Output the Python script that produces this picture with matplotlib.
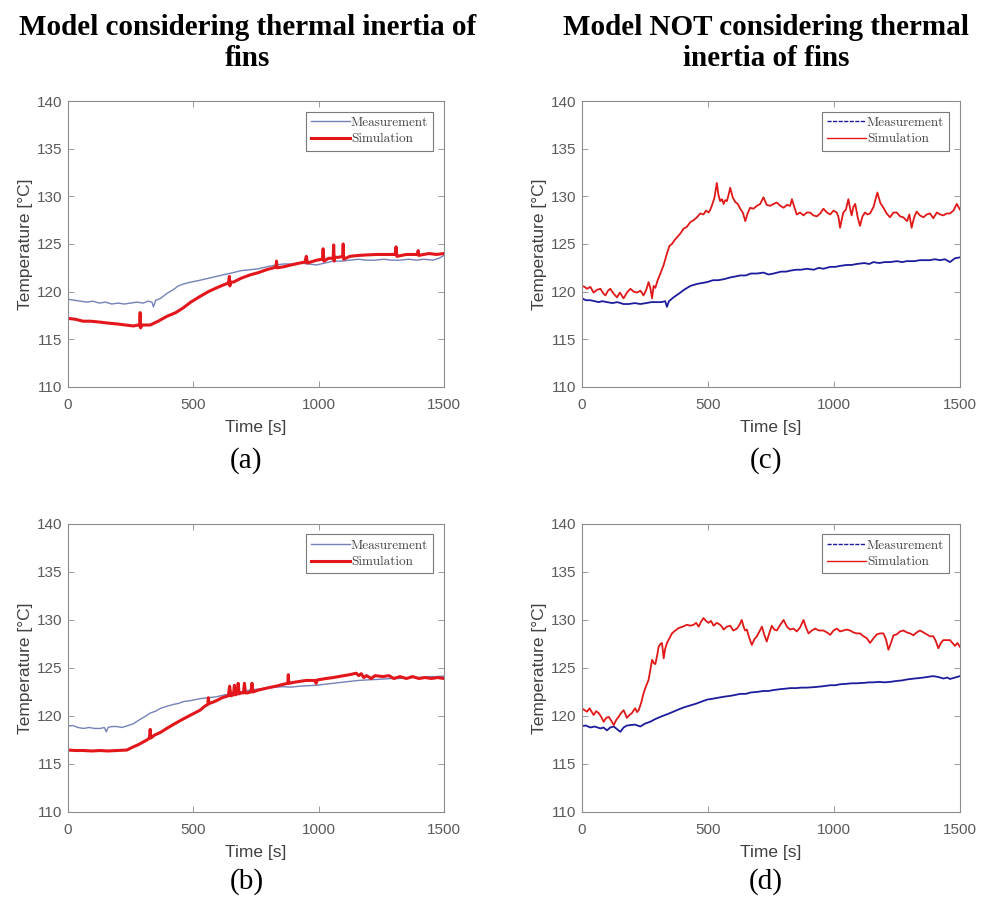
import numpy as np
import matplotlib
matplotlib.use('Agg')
import matplotlib.pyplot as plt
from matplotlib.lines import Line2D

# (time [s], temperature [degC])
meas_a = [(0,119.2),(25,119.1),(50,119.0),(75,118.9),(100,119.0),(125,118.8),(150,118.9),(175,118.7),
          (200,118.8),(225,118.7),(250,118.8),(275,118.9),(300,118.8),(320,119.0),(335,118.9),(341,118.4),
          (350,119.1),(370,119.3),(394,119.8),(420,120.2),(440,120.6),(460,120.8),(490,121.0),(527,121.2),
          (560,121.4),(593,121.6),(625,121.8),(660,122.0),(690,122.2),(726,122.3),(760,122.4),(792,122.6),
          (830,122.8),(860,122.9),(890,122.9),(925,123.0),(960,122.9),(992,122.8),(1025,123.0),(1058,123.2),
          (1090,123.2),(1125,123.3),(1160,123.4),(1191,123.3),(1225,123.3),(1260,123.4),(1290,123.3),
          (1324,123.3),(1360,123.4),(1390,123.3),(1420,123.4),(1456,123.3),(1480,123.5),(1500,123.8)]

sim_a = [(0,117.2),(30,117.1),(60,116.9),(90,116.9),(129,116.8),(160,116.7),(200,116.6),(230,116.5),
         (261,116.4),(280,116.5),(286,116.4),(288,117.8),(290,116.2),(295,116.5),(328,116.5),(360,116.9),
         (394,117.4),(430,117.8),(460,118.3),(490,118.9),(527,119.5),(560,120.0),(593,120.4),(620,120.7),
         (640,120.9),(644,121.6),(646,120.6),(648,121.0),(660,121.0),(690,121.4),(726,121.75),(760,122.0),
         (792,122.3),(820,122.5),(830,122.6),(832,123.2),(834,122.5),(859,122.6),(890,122.8),(925,123.0),
         (945,123.1),(951,123.7),(955,123.0),(992,123.3),(1015,123.4),(1018,124.5),(1021,123.2),(1040,123.5),
         (1058,123.5),(1060,124.9),(1062,123.2),(1064,123.6),(1080,123.6),(1096,123.7),(1098,125.0),
         (1100,123.4),(1124,123.7),(1160,123.8),(1191,123.85),(1230,123.9),(1270,123.9),(1305,123.9),
         (1309,124.7),(1312,123.7),(1350,123.9),(1395,123.9),(1397,124.3),(1399,123.8),(1440,124.0),
         (1470,123.9),(1500,124.0)]

meas_c = [(0,119.3),(15,119.1),(33,119.1),(50,119.0),(66,118.9),(80,119.0),(99,118.9),(120,118.8),
          (140,118.9),(165,118.7),(185,118.7),(210,118.8),(231,118.7),(255,118.8),(275,118.9),(297,118.9),
          (315,118.9),(330,119.0),(337,118.4),(345,119.0),(363,119.4),(385,119.8),(405,120.2),(430,120.6),
          (455,120.8),(475,120.9),(496,121.0),(520,121.2),(540,121.2),(562,121.3),(590,121.5),(610,121.6),
          (628,121.7),(650,121.7),(670,121.9),(694,121.9),(720,122.0),(740,121.8),(760,121.9),(790,122.1),
          (810,122.1),(826,122.2),(850,122.3),(870,122.3),(892,122.4),(920,122.3),(940,122.5),(958,122.4),
          (985,122.6),(1005,122.6),(1024,122.7),(1050,122.8),(1070,122.8),(1090,122.9),(1120,123.0),
          (1140,122.9),(1156,123.1),(1180,123.0),(1200,123.1),(1222,123.1),(1250,123.2),(1270,123.1),
          (1289,123.2),(1320,123.2),(1340,123.3),(1355,123.3),(1380,123.3),(1400,123.4),(1421,123.3),
          (1440,123.4),(1460,123.1),(1480,123.5),(1500,123.6)]

sim_c = [(0,120.6),(10,120.5),(20,120.3),(33,120.5),(46,119.9),(60,120.2),(73,120.3),(85,119.8),(93,119.6),
         (103,120.1),(112,120.3),(125,119.8),(139,119.4),(150,119.9),(165,119.3),(178,119.9),(192,120.3),
         (205,120.0),(218,119.9),(232,120.1),(244,119.6),(255,120.2),(264,121.0),(271,120.4),(278,119.3),
         (284,120.6),(291,120.4),(300,121.2),(311,121.9),(324,122.8),(337,124.0),(347,124.8),(357,125.0),
         (367,125.4),(377,125.7),(390,126.1),(403,126.6),(416,126.8),(430,127.3),(443,127.5),(456,127.8),
         (469,128.2),(482,128.1),(492,128.5),(502,128.3),(509,128.6),(515,129.0),(525,129.8),(535,131.4),
         (541,130.2),(548,129.5),(555,129.7),(562,129.2),(568,129.6),(575,129.5),(582,130.2),(588,130.9),
         (598,129.9),(608,129.4),(618,129.2),(628,128.7),(638,128.3),(648,127.4),(657,128.2),(667,128.8),
         (680,128.7),(694,129.0),(707,129.2),(720,129.9),(733,129.1),(747,129.0),(760,129.2),(773,129.35),
         (787,129.0),(800,128.8),(813,129.1),(826,129.0),(833,129.7),(842,128.9),(852,128.1),(865,128.3),
         (879,128.0),(892,128.3),(905,128.3),(918,128.0),(932,127.9),(945,128.2),(958,128.7),(972,128.3),
         (985,128.1),(998,128.5),(1011,128.3),(1018,127.8),(1024,126.7),(1031,127.6),(1037,128.3),
         (1047,128.6),(1057,129.7),(1064,128.7),(1070,128.0),(1077,128.9),(1084,129.2),(1094,127.8),
         (1103,126.9),(1113,127.9),(1123,128.3),(1133,128.1),(1143,128.2),(1157,128.9),(1165,129.7),
         (1172,130.4),(1184,129.3),(1196,128.8),(1209,128.2),(1222,127.8),(1236,128.3),(1249,128.3),
         (1262,127.9),(1275,127.8),(1290,127.4),(1299,128.1),(1308,126.7),(1318,127.8),(1328,128.4),
         (1341,128.0),(1355,127.8),(1368,128.1),(1381,128.2),(1394,127.7),(1408,128.3),(1421,128.1),
         (1434,128.0),(1447,128.2),(1460,128.2),(1474,128.5),(1487,129.2),(1500,128.6)]

meas_b = [(0,118.95),(20,119.0),(40,118.8),(62,118.7),(85,118.8),(105,118.7),(129,118.7),(145,118.8),
          (153,118.35),(160,118.8),(175,118.9),(195,118.9),(215,118.8),(240,119.0),(262,119.2),(285,119.6),
          (305,119.9),(328,120.3),(350,120.5),(370,120.8),(394,121.0),(420,121.2),(440,121.3),(461,121.5),
          (490,121.6),(527,121.8),(560,121.9),(593,122.0),(625,122.2),(660,122.35),(690,122.5),(726,122.7),
          (760,122.8),(793,122.9),(825,123.0),(859,123.05),(890,123.0),(925,123.1),(960,123.15),(992,123.2),
          (1025,123.3),(1058,123.4),(1090,123.5),(1124,123.6),(1160,123.7),(1191,123.75),(1230,123.8),
          (1260,123.85),(1290,123.9),(1324,123.9),(1360,124.0),(1400,124.0),(1440,124.1),(1470,124.1),
          (1500,124.15)]

sim_b = [(0,116.45),(30,116.4),(62,116.4),(95,116.35),(129,116.4),(160,116.35),(195,116.4),(235,116.45),
         (262,116.8),(280,117.0),(301,117.3),(315,117.5),(325,117.7),(328,118.6),(331,117.7),(345,118.0),
         (370,118.3),(394,118.7),(420,119.1),(440,119.4),(461,119.7),(490,120.1),(527,120.6),(545,121.0),
         (558,121.2),(560,121.9),(563,121.3),(575,121.4),(593,121.6),(615,121.9),(640,122.1),(645,123.1),
         (650,122.1),(660,122.2),(664,123.2),(668,122.2),(675,122.3),(679,123.4),(683,122.3),(690,122.4),
         (700,122.4),(704,123.4),(708,122.4),(715,122.4),(730,122.5),(734,123.4),(738,122.5),(760,122.7),
         (793,122.9),(830,123.1),(860,123.3),(877,123.4),(879,124.3),(881,123.4),(900,123.5),(925,123.6),
         (950,123.7),(985,123.7),(990,123.4),(995,123.75),(1030,123.9),(1058,124.0),(1090,124.15),
         (1124,124.3),(1150,124.45),(1160,124.2),(1170,124.4),(1180,124.0),(1191,124.2),(1210,123.9),
         (1225,124.2),(1257,124.1),(1280,124.2),(1300,123.9),(1324,124.1),(1350,123.9),(1375,124.1),
         (1400,123.9),(1425,124.0),(1450,123.9),(1475,124.0),(1500,123.9)]

meas_d = [(0,118.95),(15,119.0),(33,118.8),(50,118.9),(73,118.7),(85,118.8),(99,118.5),(112,118.8),
          (126,118.9),(140,118.6),(152,118.35),(165,118.8),(178,119.0),(192,119.05),(210,119.1),(231,118.9),
          (250,119.2),(271,119.4),(285,119.6),(297,119.75),(320,120.0),(340,120.2),(363,120.45),(385,120.7),
          (405,120.9),(430,121.1),(455,121.3),(475,121.5),(496,121.7),(520,121.8),(540,121.9),(562,122.0),
          (590,122.1),(610,122.2),(628,122.3),(650,122.3),(670,122.45),(694,122.5),(720,122.6),(740,122.6),
          (760,122.7),(790,122.8),(810,122.85),(826,122.9),(850,122.9),(870,122.95),(892,122.95),(920,123.0),
          (940,123.05),(958,123.1),(985,123.2),(1005,123.2),(1024,123.3),(1050,123.35),(1070,123.4),
          (1090,123.4),(1120,123.45),(1140,123.5),(1156,123.5),(1180,123.55),(1200,123.5),(1222,123.55),
          (1250,123.65),(1270,123.7),(1289,123.8),(1320,123.9),(1340,123.95),(1355,124.0),(1380,124.1),
          (1394,124.15),(1415,124.05),(1434,123.9),(1450,124.0),(1460,123.85),(1480,124.0),(1500,124.15)]

sim_d = [(0,120.8),(10,120.6),(20,120.45),(30,120.8),(46,120.1),(56,120.5),(66,120.3),(76,119.9),(86,119.4),
         (96,119.8),(106,119.9),(116,119.5),(126,119.05),(136,119.6),(145,119.9),(155,120.3),(165,120.6),
         (172,120.2),(178,119.8),(188,120.1),(198,120.3),(205,120.6),(211,120.8),(218,120.4),(225,120.6),
         (235,121.4),(244,122.35),(254,123.1),(264,123.75),(271,124.8),(278,125.85),(285,125.5),(291,125.4),
         (298,126.3),(304,127.2),(311,127.5),(317,127.6),(321,126.8),(324,126.0),(330,127.0),(337,127.6),
         (347,128.1),(357,128.6),(370,128.9),(383,129.15),(400,129.3),(416,129.5),(430,129.4),(443,129.5),
         (453,129.7),(463,129.3),(472,129.8),(482,130.2),(492,129.9),(502,129.7),(512,129.9),(522,129.4),
         (535,129.7),(548,129.5),(555,129.3),(562,129.0),(575,129.3),(588,129.4),(600,128.9),(615,129.1),
         (625,129.5),(634,130.0),(640,129.4),(647,128.9),(654,129.0),(664,128.1),(674,127.4),(684,128.0),
         (694,128.3),(704,128.8),(714,129.3),(724,128.4),(733,127.75),(743,128.6),(753,129.4),(763,129.0),
         (773,128.9),(787,129.5),(800,130.0),(813,129.3),(826,129.0),(839,129.1),(852,128.8),(865,129.2),
         (879,130.0),(889,129.2),(899,128.6),(912,128.9),(925,129.1),(940,128.9),(958,128.9),(972,128.7),
         (985,128.45),(998,128.9),(1011,129.1),(1024,128.8),(1037,128.9),(1050,129.0),(1064,128.9),
         (1077,128.7),(1090,128.6),(1103,128.6),(1117,128.3),(1130,128.1),(1143,127.6),(1157,128.1),
         (1170,128.5),(1183,128.6),(1196,128.6),(1206,128.0),(1216,126.9),(1226,127.6),(1236,128.4),
         (1249,128.5),(1262,128.8),(1275,128.9),(1289,128.7),(1302,128.6),(1315,128.4),(1328,128.7),
         (1341,128.9),(1355,128.7),(1368,128.5),(1381,128.3),(1394,128.3),(1404,127.8),(1414,127.05),
         (1424,127.6),(1434,127.9),(1447,127.9),(1460,127.9),(1470,127.6),(1480,127.3),(1490,127.6),
         (1500,127.2)]

title_left = ['Model considering thermal inertia of', 'fins']
title_right = ['Model NOT considering thermal', 'inertia of fins']
xticks = [0, 500, 1000, 1500]
yticks = [110, 115, 120, 125, 130, 135, 140]

fig = plt.figure(figsize=(9.82, 8.97), dpi=100)

# panel boxes in figure fraction (left, bottom, width, height), sub-label position
panels = [
    ('(a)', meas_a, sim_a, 'inertia', [0.0692, 0.5686, 0.3829, 0.3188], (0.251, 0.487)),
    ('(b)', meas_b, sim_b, 'inertia', [0.0692, 0.0948, 0.3829, 0.3211], (0.251, 0.0178)),
    ('(c)', meas_c, sim_c, 'plain', [0.5927, 0.5686, 0.3849, 0.3188], (0.780, 0.487)),
    ('(d)', meas_d, sim_d, 'plain', [0.5927, 0.0948, 0.3849, 0.3211], (0.780, 0.0178)),
]

grey = '#8c8c8c'
for tag, meas, sim, style, box, tagpos in panels:
    ax = fig.add_axes(box)
    tm, vm = zip(*meas)
    ts, vs = zip(*sim)
    if style == 'inertia':
        ax.plot(tm, vm, color='#7482b8', lw=1.0)
        ax.plot(ts, vs, color='#e3161b', lw=2.2)
        handles = [Line2D([], [], color='#7482b8', lw=1.0),
                   Line2D([], [], color='#e3161b', lw=2.2)]
    else:
        ax.plot(tm, vm, color='#1c1c9c', lw=1.3)
        ax.plot(ts, vs, color='#e01818', lw=1.3)
        handles = [Line2D([], [], color='#1c1c9c', lw=1.0, ls=(0, (3, 1))),
                   Line2D([], [], color='#e01818', lw=1.0)]
    ax.set_xlim(0, 1500)
    ax.set_ylim(110, 140)
    ax.set_xticks(xticks)
    ax.set_yticks(yticks)
    ax.tick_params(direction='in', top=True, right=True, length=4, width=0.6,
                   color=grey, labelcolor='#5a5a5a', labelsize=11)
    ax.tick_params(axis='x', pad=8)
    ax.tick_params(axis='y', pad=4)
    for lab in ax.get_xticklabels() + ax.get_yticklabels():
        lab.set_fontfamily('Liberation Sans')
    for s in ax.spines.values():
        s.set_color(grey)
        s.set_linewidth(0.8)
    ax.set_xlabel('Time [s]', fontsize=12.5, color='#404040', family='Liberation Sans', labelpad=6)
    ax.set_ylabel('Temperature [°C]', fontsize=12.5, color='#404040', family='Liberation Sans', labelpad=3)
    leg = ax.legend(handles, ['Measurement', 'Simulation'], loc='upper right',
                    prop={'family': 'cmr10', 'size': 9.5},
                    fancybox=False, framealpha=1, edgecolor='#7a7a7a',
                    handlelength=2.9, handletextpad=0.1, borderpad=0.4,
                    labelspacing=0.3, borderaxespad=0.8)
    leg.get_frame().set_linewidth(0.8)
    for t in leg.get_texts():
        t.set_color('#444444')
    fig.text(tagpos[0], tagpos[1], tag, ha='center', va='center',
             fontsize=21, family='Liberation Serif')

for cx, lines in [(0.252, title_left), (0.780, title_right)]:
    fig.text(cx, 1 - 35 / 897, lines[0], ha='center', va='baseline', fontsize=21,
             fontweight='bold', family='Liberation Serif')
    fig.text(cx, 1 - 66 / 897, lines[1], ha='center', va='baseline', fontsize=21,
             fontweight='bold', family='Liberation Serif')

fig.savefig('out.png', dpi=100)
